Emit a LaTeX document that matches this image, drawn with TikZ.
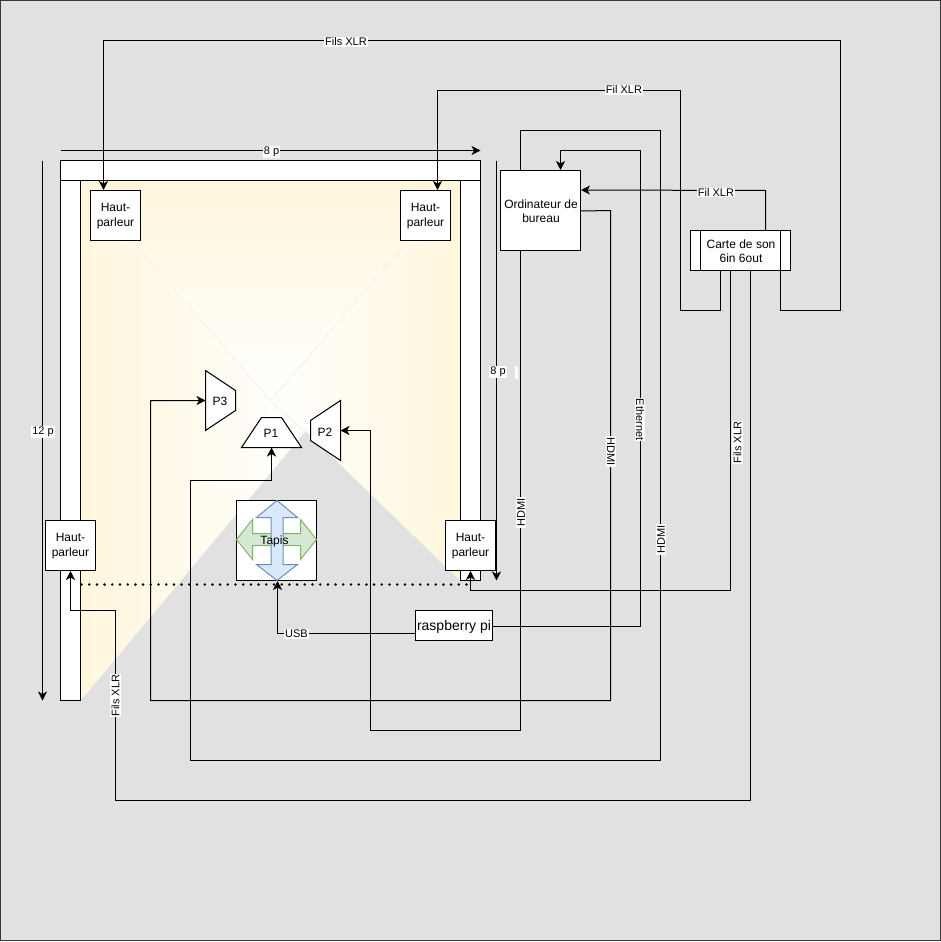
\documentclass[tikz,border=0pt]{standalone}
\usepackage{fontspec}
\setmainfont{Liberation Sans}
\usetikzlibrary{arrows.meta,calc}
\definecolor{bggray}{HTML}{E1E1E1}
\definecolor{frameg}{HTML}{36393D}
\definecolor{warm}{HTML}{FFF6DC}
\definecolor{faint}{HTML}{F6F4EC}
\definecolor{bluef}{HTML}{DAE8FC}
\definecolor{blued}{HTML}{6C8EBF}
\definecolor{greenf}{HTML}{D5E8D4}
\definecolor{greend}{HTML}{82B366}
\tikzset{
  box/.style={draw=black,fill=white,line width=1pt,inner sep=0pt,align=center},
  wall/.style={draw=black,fill=white,line width=1pt},
  poly/.style={draw=black,fill=white,line width=1pt,line join=miter},
  ptext/.style={inner sep=0pt,align=center,font=\fontsize{12}{14.5}\selectfont},
  conn/.style={draw=black,line width=1pt,line join=miter,-{Stealth[length=9pt,width=9pt,inset=2.5pt]}},
  lab/.style={fill=white,inner sep=1pt,font=\fontsize{11}{13}\selectfont},
  labcw/.style={lab,rotate=-90},
  labccw/.style={lab,rotate=90},
}
\begin{document}
\begin{tikzpicture}[x=1pt,y=-1pt]
\useasboundingbox (0,0) rectangle (941,942);
\draw[draw=frameg,fill=bggray,line width=1.5pt] (0.5,0.5) rectangle (940.5,940.5);
\begin{scope}[shift={(0.5,0.5)}]

% floor shading, in overlapping strips
\begin{scope}
  \clip (80,180) -- (270,400) -- (305,430) -- (80,700) -- cycle;
  \foreach \i in {0,...,49}{
    \pgfmathtruncatemacro{\p}{100-2*\i}
    \fill[warm!\p!white] ({80+4.4*\i},180) rectangle (310,700);
  }
\end{scope}
\begin{scope}
  \clip (460,180) -- (270,400) -- (305,430) -- (460,580) -- cycle;
  \foreach \i in {0,...,49}{
    \pgfmathtruncatemacro{\p}{100-2*\i}
    \fill[warm!\p!white] ({460-3.8*\i},180) rectangle (265,580);
  }
\end{scope}
\begin{scope}
  \clip (80,180) -- (460,180) -- (270,400) -- cycle;
  \foreach \i in {0,...,49}{
    \pgfmathtruncatemacro{\p}{100-2*\i}
    \fill[warm!\p!white] (80,{180+4.4*\i}) rectangle (460,405);
  }
\end{scope}
\draw[faint,line width=1pt] (80,180) -- (270,400) -- (460,180);
\draw[faint,line width=1pt] (270,400) -- (305,432);

% walls
\draw[wall] (60,180) rectangle (80,700);
\draw[wall] (460,180) rectangle (480,580);
\draw[wall] (60,160) rectangle (480,180);

% carpet
\node[box,minimum width=80pt,minimum height=80pt] (carpet) at (276,540) {};
\draw[draw=greend,fill=greenf,line width=1pt,line join=miter]
  (236,539) -- (252,519) -- (252,533) -- (300,533) -- (300,519) -- (316,539)
  -- (300,559) -- (300,545) -- (252,545) -- (252,559) -- cycle;
\draw[draw=blued,fill=bluef,line width=1pt,line join=miter]
  (276.5,500) -- (297,517) -- (282.5,517) -- (282.5,564) -- (297,564) -- (276.5,580)
  -- (256,564) -- (270.5,564) -- (270.5,517) -- (256,517) -- cycle;
\node[ptext] (carpetlabel) at (274,540.5) {Tapis};

% dotted line
\coordinate (dotl) at (81,584);
\coordinate (dotr) at (470,584);
\draw[black,line width=2.8pt,line cap=round,dash pattern=on 0pt off 7.7pt] (dotl) -- (dotr);

% nodes
\node[box,minimum width=50pt,minimum height=50pt] (sptl) at (115,215) {};
\node[box,minimum width=50pt,minimum height=50pt] (sptr) at (425,215) {};
\node[box,minimum width=50pt,minimum height=50pt] (spbl) at (70,545) {};
\node[box,minimum width=50pt,minimum height=50pt] (spbr) at (470,545) {};
\node[ptext] (sptltext) at ([yshift=-0.5pt]sptl.center) {Haut-\\parleur};
\node[ptext] (sptrtext) at ([yshift=-0.5pt]sptr.center) {Haut-\\parleur};
\node[ptext] (spbltext) at ([yshift=-0.5pt]spbl.center) {Haut-\\parleur};
\node[ptext] (spbrtext) at ([yshift=-0.5pt]spbr.center) {Haut-\\parleur};
\node[box,minimum width=80pt,minimum height=80pt] (pc) at (540,210) {};
\node[ptext] (pclabel) at (540.5,210.5) {Ordinateur de\\bureau};
\node[box,minimum width=100pt,minimum height=40pt] (card) at (740,250) {};
\draw[black,line width=1pt] (700,230) -- (700,270) (780,230) -- (780,270);
\node[ptext] (cardlabel) at (740.5,250.5) {Carte de son\\6in 6out};
\node[box,minimum width=77pt,minimum height=30pt] (pi) at (453.5,625) {};
\node[ptext,font=\fontsize{14}{16}\selectfont] (pilabel) at (453.5,626.5) {raspberry pi};

% projectors
\draw[poly] (205,370) -- (235,390) -- (235,410) -- (205,430) -- cycle;
\draw[poly] (241,447) -- (301,447) -- (281,417) -- (261,417) -- cycle;
\draw[poly] (340,400) -- (340,460) -- (310,440) -- (310,420) -- cycle;
\node[ptext] (pone) at (270.5,432.5) {P1};
\node[ptext] (ptwo) at (324.5,431.5) {P2};
\node[ptext] (pthree) at (219.5,400.5) {P3};
\coordinate (poneport) at (271,447);
\coordinate (ptwoport) at (340,430);
\coordinate (pthreeport) at (205,400);

% dimension ends
\coordinate (d1a) at (60,150);  \coordinate (d1b) at (480,150);
\coordinate (d2a) at (42,160);  \coordinate (d2b) at (42,700);
\coordinate (d3a) at (496,160); \coordinate (d3b) at (496,580);
\draw[conn] (d1a) -- (d1b);
\draw[conn] (d2a) -- (d2b);
\draw[conn] (d3a) -- (d3b);

% connectors
\draw[conn] ([xshift=40pt]card.south) -- (780,310) -- (840,310) -- (840,40) -- (103,40) -- ([xshift=-12pt]sptl.north);
\draw[conn] ([xshift=-20pt]card.south) -- (720,310) -- (680,310) -- (680,90) -- (437,90) -- ([xshift=12pt]sptr.north);
\draw[conn] ([xshift=25pt]card.north) -- (765,190) -- ([yshift=-20pt]pc.north east);
\draw[conn] ([xshift=-10pt]card.south) -- (730,590) -- (470,590) -- (spbr.south);
\draw[conn] ([xshift=10pt]card.south) -- (750,800) -- (115,800) -- (115,610) -- (70,610) -- (spbl.south);
\draw[conn] ([xshift=-20pt]pc.south) -- (520,730) -- (370,730) -- (370,430) -- (ptwoport);
\draw[conn] ([yshift=40pt]pc.south east) -- (610,210) -- (610,700) -- (150,700) -- (150,400) -- (pthreeport);
\draw[conn] ([xshift=-20pt]pc.north) -- (520,130) -- (660,130) -- (660,760) -- (190,760) -- (190,480) -- (271,480) -- (poneport);
\draw[conn] ([yshift=-1pt]pi.east) -- (640,626) -- (640,150) -- (560,150) -- ([xshift=20pt]pc.north);
\draw[conn] ([yshift=-8pt]pi.west) -- (277,633) -- ([xshift=1pt]carpet.south);

% labels
\node[lab] (l8a) at (271,151.5) {8 p};
\node[lab] (l12) at (42.5,431.5) {12 p};
\node[lab] (l8b) at (497.5,371.5) {8 p};
\fill[white] (514,365) rectangle (517,378);
\node[lab] (lxa) at (345.5,41.5) {Fils XLR};
\node[lab] (lxb) at (623.5,89.5) {Fil XLR};
\node[lab] (lxc) at (715.5,192) {Fil XLR};
\node[labccw] (lxd) at (737,442) {Fils XLR};
\node[labccw] (lxe) at (115,695) {Fils XLR};
\node[labccw] (lha) at (520.5,512) {HDMI};
\node[labcw] (lhb) at (610.5,451) {HDMI};
\node[labccw] (lhc) at (660.5,539) {HDMI};
\node[labcw] (leth) at (639.5,419) {Ethernet};
\node[lab] (lusb) at (296,633.5) {USB};
\end{scope}
\end{tikzpicture}
\end{document}
